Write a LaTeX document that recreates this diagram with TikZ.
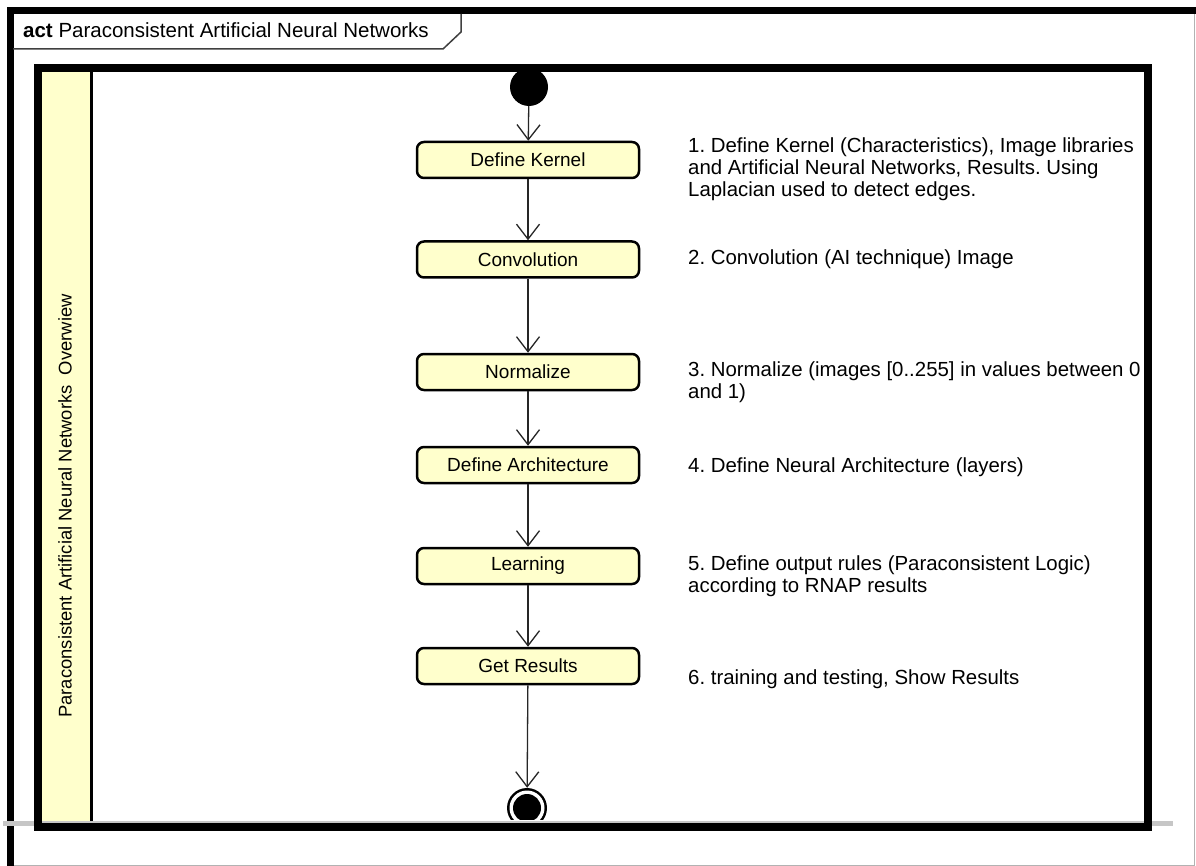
\documentclass[tikz,border=0pt]{standalone}
\usepackage{fontspec}
\setmainfont{Liberation Sans}
\usetikzlibrary{arrows.meta}
\definecolor{umlyellow}{HTML}{FFFFCC}
\frenchspacing
\begin{document}
\begin{tikzpicture}[x=1pt,y=-1pt,line join=miter,
  action/.style={draw=black, line width=2.5pt, fill=umlyellow, rounded corners=7pt,
    minimum width=222pt, minimum height=36pt, inner sep=0pt,
    font=\fontsize{19}{22}\selectfont},
  flow/.style={draw=black!85, line width=1.3pt,
    -{Straight Barb[length=15pt,width=23pt]}},
  note/.style={anchor=base west, inner sep=0pt, font=\fontsize{20.4}{22}\selectfont},
]
\useasboundingbox (0,0) rectangle (1196,866);
\fill[white] (0,0) rectangle (1196,866);
% outer frame
\draw[gray!60, line width=1pt] (1194.5,10) -- (1194.5,865) -- (9,865);
\draw[line width=7pt] (10,866) -- (10,11) -- (1196,11);
% header
\draw[black!75, line width=1.5pt] (13,49) -- (443,49) -- (461,32) -- (461,14);
\node[anchor=base west, inner sep=0pt, font=\fontsize{20.5}{22}\selectfont] (title) at (23,38)
  {\textbf{act} Paraconsistent Artificial Neural Networks};
% lane
\fill[umlyellow] (41,72) rectangle (91,823);
\draw[line width=2.5pt] (91.5,72) -- (91.5,823);
\node[rotate=90, inner sep=0pt, font=\fontsize{18.4}{22}\selectfont] (lane) at (65,506)
  {Paraconsistent Artificial Neural Networks\ \ Overwiew};
% initial node
\node[circle, fill=black, minimum size=38pt, inner sep=0pt] (init) at (529,87) {};
% final node (clipped by the frame)
\begin{scope}
  \clip (0,0) rectangle (1196,819);
  \node[circle, fill=black, minimum size=40pt, inner sep=0pt] (final) at (527,808) {};
  \fill[white] (final.center) circle (17.5pt);
  \fill[black] (final.center) circle (14pt);
\end{scope}
% gray line and inner frame
\draw[gray!45, line width=5pt] (3,823) -- (1173,823);
\draw[line width=8pt] (37.5,68.5) rectangle (1147.5,827);
% actions
\node[action] (kernel) at (528,160) {Define Kernel};
\node[action] (conv) at (528,259.5) {Convolution};
\node[action] (norm) at (528,372) {Normalize};
\node[action] (arch) at (528,465) {Define Architecture};
\node[action] (learn) at (528,566) {Learning};
\node[action] (results) at (528,666) {Get Results};
% flows
\draw[flow] (init) -- (kernel);
\draw[flow] (kernel) -- (conv);
\draw[flow] (conv) -- (norm);
\draw[flow] (norm) -- (arch);
\draw[flow] (arch) -- (learn);
\draw[flow] (learn) -- (results);
\draw[flow] (results) -- (final);
% notes
\node[note] (n1a) at (688,153) {1. Define Kernel (Characteristics), Image libraries};
\node[note] (n1b) at (688,175) {and Artificial Neural Networks, Results. Using};
\node[note] (n1c) at (688,197) {Laplacian used to detect edges.};
\node[note] (n2) at (688,264.5) {2. Convolution (AI technique) Image};
\node[note] (n3a) at (688,376) {3. Normalize (images [0..255] in values between 0};
\node[note] (n3b) at (688,398) {and 1)};
\node[note] (n4) at (688,472) {4. Define Neural Architecture (layers)};
\node[note] (n5a) at (688,570) {5. Define output rules (Paraconsistent Logic)};
\node[note] (n5b) at (688,592) {according to RNAP results};
\node[note] (n6) at (688,684) {6. training and testing, Show Results};
\end{tikzpicture}
\end{document}
